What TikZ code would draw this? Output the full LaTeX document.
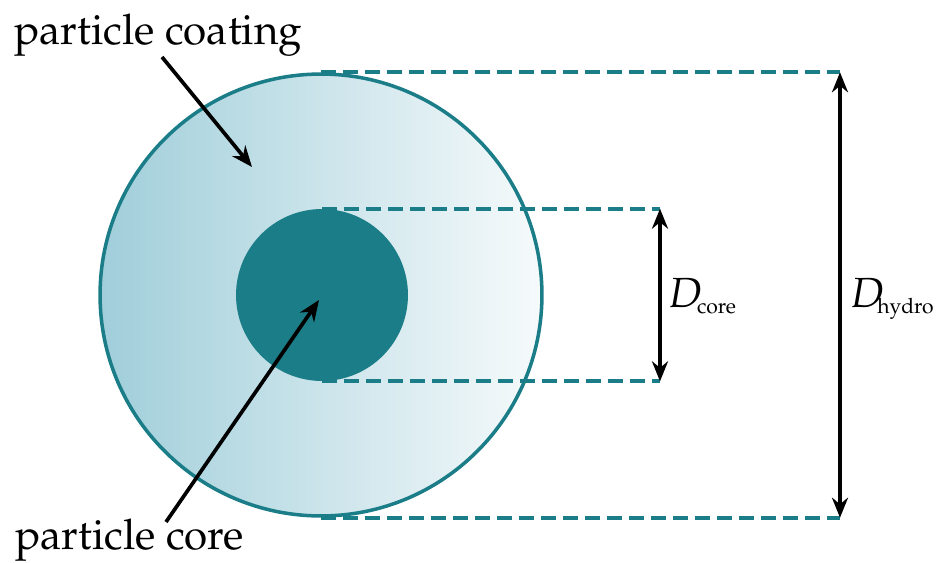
\documentclass[tikz,border=0pt]{standalone}
\usepackage[T1]{fontenc}
\usepackage{mathpazo}
\usepackage{xcolor}
\usetikzlibrary{arrows.meta,positioning}

\definecolor{tealline}{RGB}{27,125,135}
\definecolor{shellleft}{RGB}{160,206,218}
\definecolor{shellright}{RGB}{246,250,251}
\newcommand{\subtxt}[1]{\mbox{\fontsize{12}{14}\selectfont #1}}

\begin{document}
\begin{tikzpicture}[
  x=0.02cm, y=-0.02cm,
  font=\fontsize{24}{28}\selectfont,
  shell/.style={circle, draw=tealline, line width=2pt, minimum size=8.84cm, inner sep=0pt, left color=shellleft, right color=shellright},
  kernel/.style={circle, fill=tealline, minimum size=3.44cm, inner sep=0pt},
  dimline/.style={draw=tealline, line width=2.2pt, dash pattern=on 0.3cm off 0.14cm},
  arr/.style={-{Stealth[length=0.42cm, width=0.34cm]}, line width=2.1pt},
  dimarr/.style={{Stealth[length=0.4cm, width=0.32cm]}-{Stealth[length=0.4cm, width=0.32cm]}, line width=2.1pt},
]
\useasboundingbox (0,0) rectangle (937,562);
\node[shell] (coating) at (321,295) {};
\node[kernel] (core) at (322,295) {};
% dimension coordinates
\coordinate (ctop) at (core.north -| 660,0);
\coordinate (cbot) at (core.south -| 660,0);
\coordinate (htop) at (coating.north -| 840,0);
\coordinate (hbot) at (coating.south -| 840,0);
\draw[dimline] (coating.north) -- (htop);
\draw[dimline] (coating.south) -- (hbot);
\draw[dimline] (core.north) -- (ctop);
\draw[dimline] (core.south) -- (cbot);
\draw[dimarr] (ctop) -- (cbot);
\draw[dimarr] (htop) -- (hbot);
\node[anchor=base west, inner sep=0pt] (dcore) at (668,307) {$D_{\mkern-3mu\subtxt{core}}$};
\node[anchor=base west, inner sep=0pt] (dhydro) at (850,307) {$D_{\mkern-4mu\subtxt{hydro}}$};
% labels and pointers
\node[anchor=west, inner sep=0pt] (coatlbl) at (14,35) {particle coating};
\node[anchor=west, inner sep=0pt] (corelbl) at (15,540) {particle core};
\coordinate (coattip) at (252,167);
\coordinate (coretip) at (319,300);
\draw[arr] (162,57) -- (coattip);
\draw[arr] (166,522) -- (coretip);
\end{tikzpicture}
\end{document}
